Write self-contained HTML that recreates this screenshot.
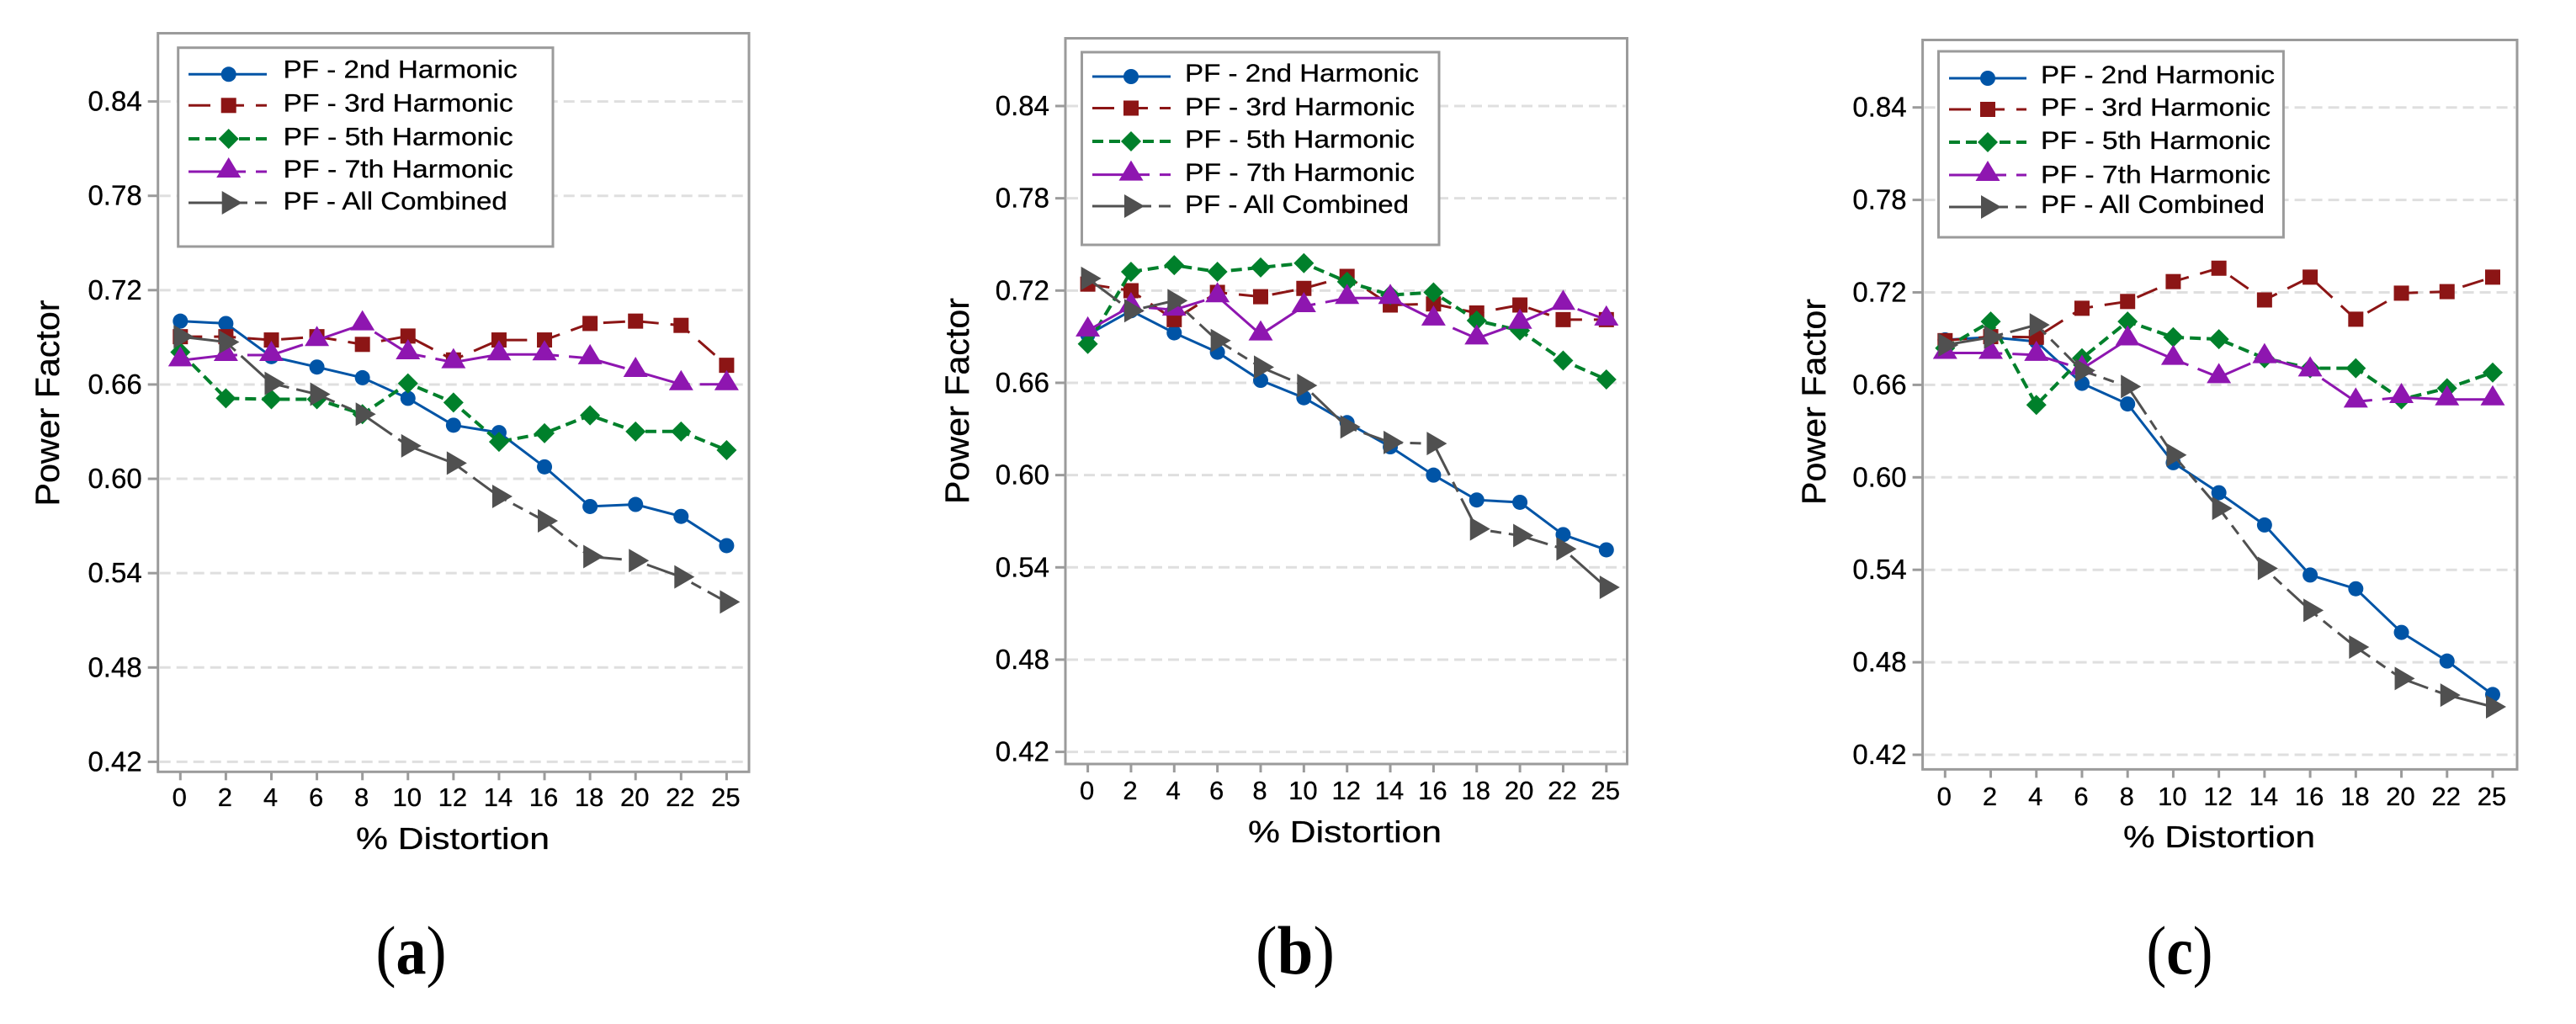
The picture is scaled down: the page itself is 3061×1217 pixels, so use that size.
<!DOCTYPE html>
<html lang="en">
<head>
<meta charset="utf-8">
<title>Power Factor versus % Distortion</title>
<style>
html,body{margin:0;padding:0;background:#fff;width:3061px;height:1217px;overflow:hidden}
svg{display:block}
text{font-family:"Liberation Sans",sans-serif;fill:#000;stroke:#000;stroke-width:.3px}
.cap{font-family:"Liberation Serif",serif;stroke:none}
</style>
</head>
<body>
<svg id="figure" xmlns="http://www.w3.org/2000/svg" width="3061" height="1217" viewBox="0 0 3061 1217"></svg>
<script>
// ---------- shared axis data ----------
const categories = ["0","2","4","6","8","10","12","14","16","18","20","22","25"];
const yTickValues = [0.84,0.78,0.72,0.66,0.60,0.54,0.48,0.42];
const yTickLabels = ["0.84","0.78","0.72","0.66","0.60","0.54","0.48","0.42"];
const seriesNames = ["PF - 2nd Harmonic","PF - 3rd Harmonic","PF - 5th Harmonic","PF - 7th Harmonic","PF - All Combined"];

// ---------- panel (a) values ----------
const a2nd = [0.7003,0.6988,0.6777,0.6711,0.6643,0.6512,0.6341,0.6294,0.6076,0.5824,0.5837,0.5761,0.5575];
const a3rd = [0.6904,0.6904,0.6883,0.6904,0.6855,0.6908,0.6756,0.6883,0.6883,0.6988,0.7003,0.6976,0.6722];
const a5th = [0.6806,0.6512,0.6506,0.6506,0.6411,0.6607,0.6485,0.6235,0.6290,0.6404,0.6301,0.6301,0.6182];
const a7th = [0.6753,0.6787,0.6787,0.6882,0.6982,0.6798,0.6741,0.6791,0.6791,0.6766,0.6685,0.6601,0.6601];
const aAll = [0.6904,0.6870,0.6607,0.6538,0.6411,0.6210,0.6100,0.5888,0.5733,0.5505,0.5480,0.5376,0.5217];

// ---------- panel (b) values ----------
const b2nd = [0.6912,0.7069,0.6925,0.6799,0.6616,0.6503,0.6341,0.6184,0.6000,0.5838,0.5823,0.5613,0.5514];
const b3rd = [0.7242,0.7199,0.7011,0.7188,0.7160,0.7214,0.7292,0.7106,0.7113,0.7054,0.7106,0.7011,0.7011];
const b5th = [0.6853,0.7322,0.7365,0.7322,0.7350,0.7378,0.7257,0.7171,0.7188,0.7005,0.6940,0.6745,0.6622];
const b7th = [0.6940,0.7098,0.7075,0.7162,0.6914,0.7098,0.7151,0.7151,0.7011,0.6888,0.6990,0.7113,0.7011];
const bAll = [0.7279,0.7069,0.7134,0.6875,0.6702,0.6583,0.6313,0.6212,0.6205,0.5650,0.5607,0.5520,0.5270];

// ---------- panel (c) values ----------
const c2nd = [0.6892,0.6909,0.6881,0.6610,0.6476,0.6095,0.5900,0.5691,0.5366,0.5277,0.4994,0.4808,0.4591];
const c3rd = [0.6887,0.6913,0.6909,0.7097,0.7141,0.7270,0.7357,0.7151,0.7299,0.7026,0.7195,0.7205,0.7299];
const c5th = [0.6838,0.7011,0.6470,0.6773,0.7011,0.6909,0.6896,0.6773,0.6708,0.6708,0.6506,0.6578,0.6680];
const c7th = [0.6807,0.6807,0.6794,0.6704,0.6894,0.6768,0.6649,0.6779,0.6693,0.6491,0.6520,0.6505,0.6505];
const cAll = [0.6859,0.6909,0.6989,0.6693,0.6589,0.6145,0.5799,0.5409,0.5137,0.4899,0.4695,0.4587,0.4511];

// ---------- styling & layout (not data) ----------
const seriesStyle = [
  {key:"2nd",color:"#0054a6",w:3,dash:"none",marker:"circle"},
  {key:"3rd",color:"#8c1515",w:3,dash:"26 14",marker:"square"},
  {key:"5th",color:"#00802b",w:4,dash:"13 7",marker:"diamond"},
  {key:"7th",color:"#8e16b0",w:3,dash:"68 12",marker:"triangle"},
  {key:"all",color:"#505050",w:3,dash:"48 9 13 9",marker:"arrow"}
];
const panels = [
  {id:"a",series:[a2nd,a3rd,a5th,a7th,aAll],left:187.7,right:890,top:39.5,bottom:917.3,x0:214.3,x1:863.4,y84:120.6,y42:905.4,
   xlabelBase:958,xtitleX:538,xtitleBase:1009,xtitleLen:230,ytitleX:70,ytitleY:479,capX:488.5,capLen:84,
   legend:{l:211.7,r:657,t:56.7,b:293,lineL:224,lineR:317,mx:271.7,textX:336.7,
     lineY:[88.3,125.3,165,204,241],textY:[92.7,132.7,172.7,211,249]}},
  {id:"b",series:[b2nd,b3rd,b5th,b7th,bAll],left:1266,right:1933.5,top:45.5,bottom:908,x0:1292.6,x1:1908.8,y84:126,y42:893.6,
   xlabelBase:950,xtitleX:1598,xtitleBase:1001,xtitleLen:230,ytitleX:1151,ytitleY:476.5,capX:1539,capLen:94,
   legend:{l:1285.5,r:1710,t:62,b:291,lineL:1298,lineR:1391,mx:1344,textX:1408,
     lineY:[91,128.5,168,207.6,245],textY:[97,137,175.5,215,253]}},
  {id:"c",series:[c2nd,c3rd,c5th,c7th,cAll],left:2284.6,right:2991,top:47.5,bottom:914.4,x0:2311.3,x1:2962,y84:127.7,y42:897,
   xlabelBase:957,xtitleX:2637,xtitleBase:1007,xtitleLen:228,ytitleX:2169,ytitleY:477.5,capX:2590,capLen:79,
   legend:{l:2303.5,r:2713.4,t:61,b:282,lineL:2316,lineR:2408,mx:2362,textX:2425,
     lineY:[93,130,169,208,246],textY:[99,137.5,177,217.4,253]}}
];
const legendTextLen = [278,273,273,273,266];
const frameColor = "#9b9b9b";
const gridColor = "#dfdfdf";
const NS = "http://www.w3.org/2000/svg";
const root = document.getElementById("figure");

function mk(tag, attrs, parent) {
  const el = document.createElementNS(NS, tag);
  for (const k in attrs) el.setAttribute(k, attrs[k]);
  parent.appendChild(el);
  return el;
}

function drawMarker(kind, cx, cy, color, parent) {
  let el;
  if (kind === "circle") {
    el = mk("circle", {cx:cx, cy:cy, r:9, fill:color}, parent);
  } else if (kind === "square") {
    el = mk("rect", {x:cx-9, y:cy-9, width:18, height:18, fill:color}, parent);
  } else if (kind === "diamond") {
    el = mk("polygon", {points:[cx,cy-12,cx+12,cy,cx,cy+12,cx-12,cy].join(","), fill:color}, parent);
  } else if (kind === "triangle") {
    el = mk("polygon", {points:[cx,cy-17,cx+14.5,cy+7,cx-14.5,cy+7].join(","), fill:color}, parent);
  } else {
    el = mk("polygon", {points:[cx-8,cy-14,cx+16,cy,cx-8,cy+14].join(","), fill:color}, parent);
  }
  return el;
}

panels.forEach(function (p) {
  const xScale = function (i) { return p.x0 + (p.x1 - p.x0) * i / (categories.length - 1); };
  const yScale = function (v) { return p.y84 + (p.y42 - p.y84) * (0.84 - v) / (0.84 - 0.42); };

  const g = mk("g", {}, root);
  
  

  // gridlines and y axis ticks
  yTickValues.forEach(function (v, i) {
    const y = yScale(v);
    const grid = mk("line", {x1:p.left+2, x2:p.right-2, y1:y, y2:y, stroke:gridColor, "stroke-width":3, "stroke-dasharray":"13 7"}, g);
    
    
    const tick = mk("line", {x1:p.left-12, x2:p.left, y1:y, y2:y, stroke:frameColor, "stroke-width":3}, g);
    
    
    const lab = mk("text", {x:p.left-19, y:y+11, "text-anchor":"end", "font-size":33}, g);
    lab.textContent = yTickLabels[i];
    
    
  });

  // x axis ticks and labels
  categories.forEach(function (c, i) {
    const x = xScale(i);
    const tick = mk("line", {x1:x, x2:x, y1:p.bottom, y2:p.bottom+10, stroke:frameColor, "stroke-width":3}, g);
    
    
    const lab = mk("text", {x:x-1, y:p.xlabelBase, "text-anchor":"middle", "font-size":31}, g);
    lab.textContent = c;
    
    
  });

  // plot frame
  const frame = mk("rect", {x:p.left, y:p.top, width:p.right-p.left, height:p.bottom-p.top, fill:"none", stroke:frameColor, "stroke-width":3}, g);
  
  

  // series lines + markers
  p.series.forEach(function (vals, s) {
    const st = seriesStyle[s];
    const sg = mk("g", {}, g);
    
    
    const pts = vals.map(function (v, i) { return xScale(i).toFixed(1) + "," + yScale(v).toFixed(1); }).join(" ");
    const line = mk("polyline", {points:pts, fill:"none", stroke:st.color, "stroke-width":st.w, "stroke-dasharray":st.dash}, sg);
    
    
    vals.forEach(function (v, i) {
      const m = drawMarker(st.marker, xScale(i), yScale(v), st.color, sg);
      
      
    });
  });

  // axis titles
  const xt = mk("text", {x:p.xtitleX, y:p.xtitleBase, "text-anchor":"middle", "font-size":36, textLength:p.xtitleLen, lengthAdjust:"spacingAndGlyphs"}, g);
  xt.textContent = "% Distortion";
  
  
  const yt = mk("text", {x:0, y:0, "text-anchor":"middle", "font-size":40, textLength:245, lengthAdjust:"spacingAndGlyphs", transform:"translate(" + p.ytitleX + "," + p.ytitleY + ") rotate(-90)"}, g);
  yt.textContent = "Power Factor";
  
  

  // legend
  const lg = mk("g", {}, g);
  
  
  const L = p.legend;
  const box = mk("rect", {x:L.l, y:L.t, width:L.r-L.l, height:L.b-L.t, fill:"#fff", stroke:frameColor, "stroke-width":3}, lg);
  
  
  seriesNames.forEach(function (name, s) {
    const st = seriesStyle[s];
    const en = mk("g", {}, lg);
    
    
    mk("line", {x1:L.lineL, x2:L.lineR, y1:L.lineY[s], y2:L.lineY[s], stroke:st.color, "stroke-width":st.w, "stroke-dasharray":st.dash}, en);
    drawMarker(st.marker, L.mx, L.lineY[s], st.color, en);
    const t = mk("text", {x:L.textX, y:L.textY[s], "font-size":30, textLength:legendTextLen[s], lengthAdjust:"spacingAndGlyphs"}, en);
    t.textContent = name;
  });

  // caption
  const cap = mk("text", {x:p.capX, y:1157, "text-anchor":"middle", "font-size":82, textLength:p.capLen, lengthAdjust:"spacingAndGlyphs", "class":"cap"}, g);
  
  
  const o = mk("tspan", {}, cap); o.textContent = "(";
  const b = mk("tspan", {"font-weight":"bold"}, cap); b.textContent = p.id;
  const c = mk("tspan", {}, cap); c.textContent = ")";
});
</script>
</body>
</html>
